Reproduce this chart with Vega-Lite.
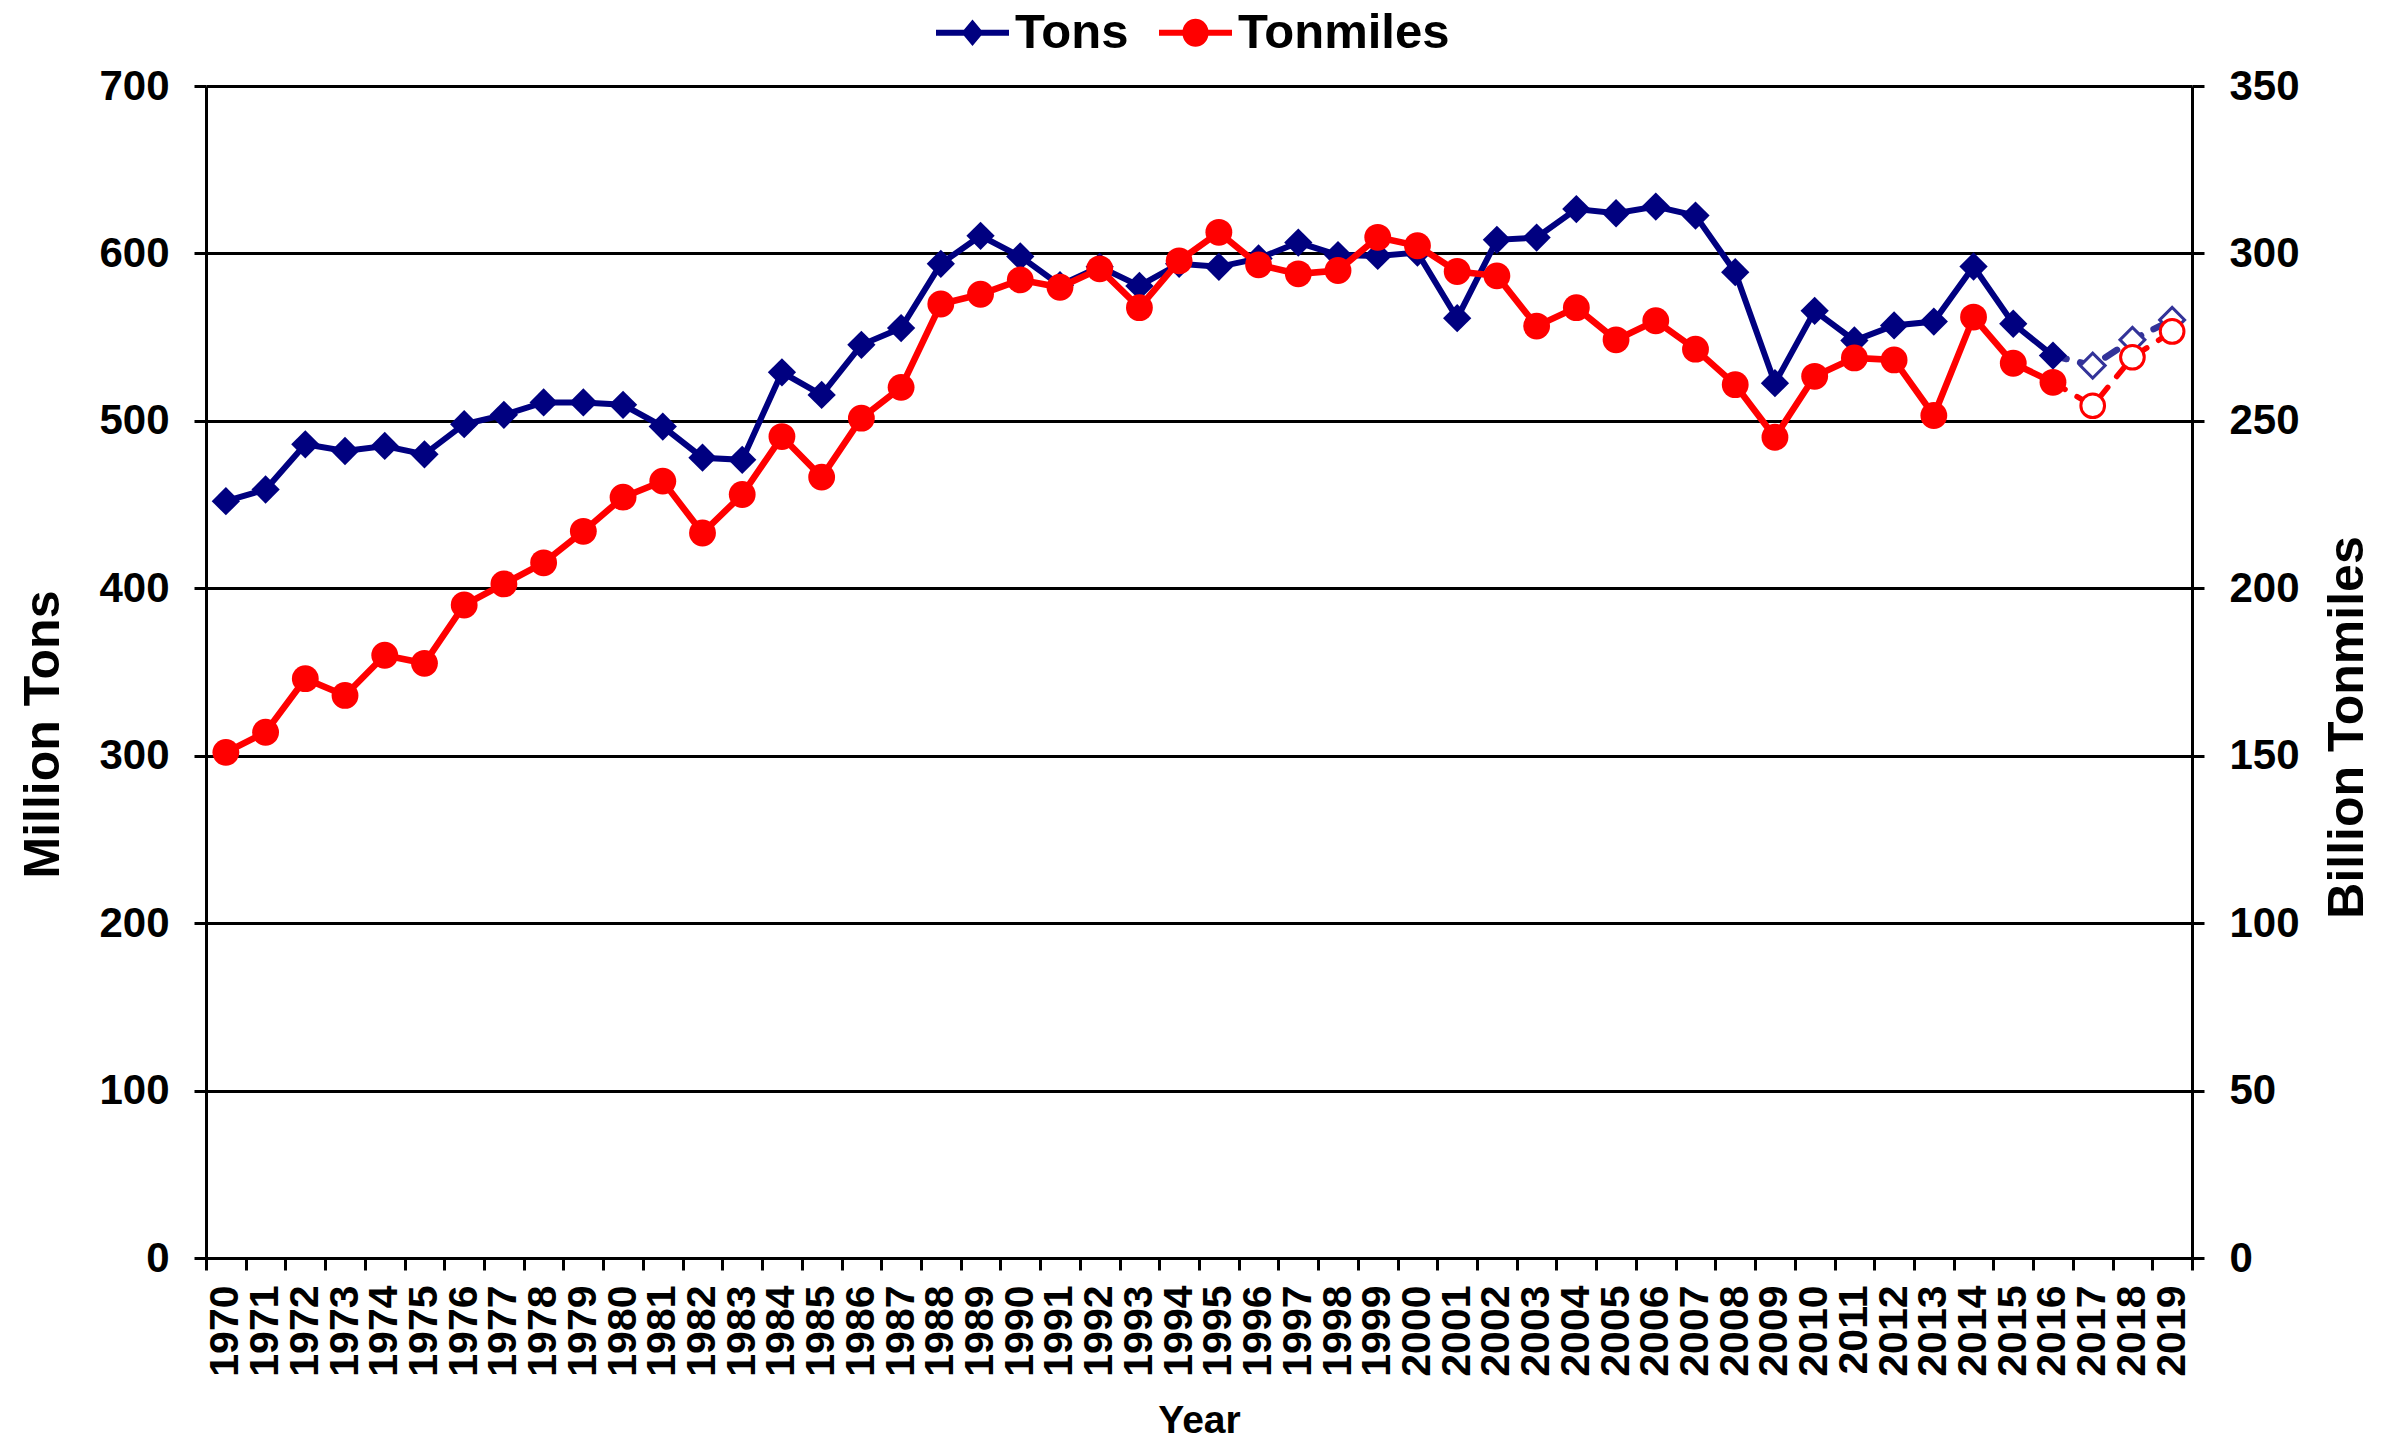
{
  "$schema": "https://vega.github.io/schema/vega-lite/v6.json",
  "width": 1986,
  "height": 1172,
  "autosize": {"type": "none"},
  "padding": {"left": 206, "top": 86, "right": 191, "bottom": 187},
  "background": "white",
  "config": {
    "font": "Liberation Sans",
    "view": {"stroke": null},
    "axis": {
      "labelFont": "Liberation Sans",
      "labelFontWeight": "bold",
      "labelColor": "black",
      "titleFont": "Liberation Sans",
      "titleFontWeight": "bold",
      "titleColor": "black",
      "domainColor": "black",
      "domainWidth": 3,
      "tickColor": "black",
      "tickWidth": 3,
      "tickSize": 12
    }
  },
  "data": {
    "values": [
      {"year": 1970, "tons": 452, "tonmiles": 151},
      {"year": 1971, "tons": 459, "tonmiles": 157},
      {"year": 1972, "tons": 486, "tonmiles": 173},
      {"year": 1973, "tons": 482, "tonmiles": 168},
      {"year": 1974, "tons": 485, "tonmiles": 180},
      {"year": 1975, "tons": 480, "tonmiles": 177.6},
      {"year": 1976, "tons": 498, "tonmiles": 195},
      {"year": 1977, "tons": 503.6, "tonmiles": 201.3},
      {"year": 1978, "tons": 511, "tonmiles": 207.6},
      {"year": 1979, "tons": 511, "tonmiles": 217},
      {"year": 1980, "tons": 509.6, "tonmiles": 227.2},
      {"year": 1981, "tons": 496.6, "tonmiles": 232},
      {"year": 1982, "tons": 478, "tonmiles": 216.5},
      {"year": 1983, "tons": 476.7, "tonmiles": 228},
      {"year": 1984, "tons": 529, "tonmiles": 245.3},
      {"year": 1985, "tons": 515.5, "tonmiles": 233.2},
      {"year": 1986, "tons": 545.4, "tonmiles": 250.8},
      {"year": 1987, "tons": 555.4, "tonmiles": 260},
      {"year": 1988, "tons": 593.8, "tonmiles": 284.9},
      {"year": 1989, "tons": 610.5, "tonmiles": 287.8},
      {"year": 1990, "tons": 598.2, "tonmiles": 292.1},
      {"year": 1991, "tons": 581, "tonmiles": 289.9},
      {"year": 1992, "tons": 592, "tonmiles": 295.4},
      {"year": 1993, "tons": 580.6, "tonmiles": 283.8},
      {"year": 1994, "tons": 593.8, "tonmiles": 297.8},
      {"year": 1995, "tons": 592, "tonmiles": 306.3},
      {"year": 1996, "tons": 597, "tonmiles": 296.6},
      {"year": 1997, "tons": 606.5, "tonmiles": 293.9},
      {"year": 1998, "tons": 599, "tonmiles": 294.9},
      {"year": 1999, "tons": 598.5, "tonmiles": 304.8},
      {"year": 2000, "tons": 600.5, "tonmiles": 302.3},
      {"year": 2001, "tons": 561.3, "tonmiles": 294.6},
      {"year": 2002, "tons": 608.1, "tonmiles": 293.3},
      {"year": 2003, "tons": 609.5, "tonmiles": 278.3},
      {"year": 2004, "tons": 626.5, "tonmiles": 283.8},
      {"year": 2005, "tons": 624, "tonmiles": 274.2},
      {"year": 2006, "tons": 628, "tonmiles": 279.9},
      {"year": 2007, "tons": 622.6, "tonmiles": 271.4},
      {"year": 2008, "tons": 588.8, "tonmiles": 260.8},
      {"year": 2009, "tons": 522.5, "tonmiles": 245.1},
      {"year": 2010, "tons": 565.7, "tonmiles": 263.3},
      {"year": 2011, "tons": 548, "tonmiles": 268.8},
      {"year": 2012, "tons": 557, "tonmiles": 268.2},
      {"year": 2013, "tons": 559.3, "tonmiles": 251.6},
      {"year": 2014, "tons": 592.2, "tonmiles": 281},
      {"year": 2015, "tons": 558, "tonmiles": 267.2},
      {"year": 2016, "tons": 539, "tonmiles": 261.5},
      {"year": 2017, "tons": 533, "tonmiles": 254.5},
      {"year": 2018, "tons": 548.4, "tonmiles": 269},
      {"year": 2019, "tons": 560.3, "tonmiles": 276.7}
    ]
  },
  "encoding": {
    "x": {
      "field": "year",
      "type": "ordinal",
      "bandPosition": 0.5,
      "scale": {"type": "band", "paddingInner": 0, "paddingOuter": 0},
      "axis": {
        "title": "Year",
        "titleFontSize": 39,
        "titleBaseline": "alphabetic",
        "titlePadding": 56,
        "labelAngle": 270,
        "labelFontSize": 41,
        "labelPadding": 15,
        "labelOverlap": false,
        "tickBand": "extent",
        "grid": false
      }
    }
  },
  "layer": [
    {
      "encoding": {
        "y": {
          "field": "tons",
          "type": "quantitative",
          "scale": {"domain": [0, 700], "nice": false},
          "axis": {
            "title": "Million Tons",
            "titleFontSize": 50,
            "titleAngle": 270,
            "titleBaseline": "alphabetic",
            "titlePadding": 40,
            "titleY": 648,
            "values": [0, 100, 200, 300, 400, 500, 600, 700],
            "labelFontSize": 42,
            "labelPadding": 25,
            "grid": true,
            "gridColor": "black",
            "gridWidth": 3,
            "gridOpacity": 1
          }
        }
      },
      "layer": [
        {
          "transform": [{"filter": "datum.year <= 2016"}],
          "mark": {"type": "line", "strokeWidth": 6},
          "encoding": {
            "color": {
              "datum": "Tons",
              "type": "nominal",
              "scale": {"domain": ["Tons", "Tonmiles"], "range": ["#000080", "#FF0000"]},
              "legend": {
                "orient": "none",
                "legendX": 730,
                "legendY": -90,
                "direction": "horizontal",
                "title": null,
                "labelFont": "Liberation Sans",
                "labelFontSize": 49,
                "labelFontWeight": "bold",
                "labelColor": "black",
                "labelLimit": 600,
                "labelOffset": 6,
                "columnPadding": 30,
                "symbolSize": 5329,
                "encode": {
                  "symbols": {
                    "update": {
                      "shape": {"signal": "datum.value === 'Tons' ? 'M-1,-0.08L-0.234,-0.08L0,-0.365L0.234,-0.08L1,-0.08L1,0.08L0.234,0.08L0,0.365L-0.234,0.08L-1,0.08Z' : 'M-1,-0.08L-0.352,-0.08A0.36,0.38 0 0 1 0.352,-0.08L1,-0.08L1,0.08L0.352,0.08A0.36,0.38 0 0 1 -0.352,0.08L-1,0.08Z'"},
                      "fill": {"signal": "datum.value === 'Tons' ? '#000080' : '#FF0000'"},
                      "stroke": {"value": "transparent"},
                      "strokeWidth": {"value": 0},
                      "opacity": {"value": 1},
                      "fillOpacity": {"value": 1},
                      "size": {"value": 5329}
                    }
                  }
                }
              }
            }
          }
        },
        {
          "transform": [{"filter": "datum.year >= 2016"}],
          "mark": {"type": "line", "color": "#333399", "strokeWidth": 6.5, "strokeDash": [14, 14], "strokeCap": "round"},
          "encoding": {}
        },
        {
          "transform": [{"filter": "datum.year <= 2016"}],
          "mark": {"type": "point", "shape": "diamond", "filled": true, "color": "#000080", "size": 800, "opacity": 1},
          "encoding": {}
        },
        {
          "transform": [{"filter": "datum.year >= 2017"}],
          "mark": {"type": "point", "shape": "diamond", "filled": true, "fill": "white", "stroke": "#333399", "strokeWidth": 3, "size": 620, "opacity": 1},
          "encoding": {}
        }
      ]
    },
    {
      "encoding": {
        "y": {
          "field": "tonmiles",
          "type": "quantitative",
          "scale": {"domain": [0, 350], "nice": false},
          "axis": {
            "orient": "right",
            "title": "Billion Tonmiles",
            "titleFontSize": 50,
            "titleAngle": 270,
            "titleBaseline": "alphabetic",
            "titlePadding": 63,
            "titleY": 641,
            "values": [0, 50, 100, 150, 200, 250, 300, 350],
            "labelFontSize": 42,
            "labelPadding": 25,
            "grid": false
          }
        }
      },
      "layer": [
        {
          "transform": [{"filter": "datum.year <= 2016"}],
          "mark": {"type": "line", "color": "#FF0000", "strokeWidth": 6.5},
          "encoding": {}
        },
        {
          "transform": [{"filter": "datum.year >= 2016"}],
          "mark": {"type": "line", "color": "#FF0000", "strokeWidth": 5.5, "strokeDash": [14, 14], "strokeCap": "round"},
          "encoding": {}
        },
        {
          "transform": [{"filter": "datum.year <= 2016"}],
          "mark": {"type": "point", "shape": "circle", "filled": true, "color": "#FF0000", "size": 720, "opacity": 1},
          "encoding": {}
        },
        {
          "transform": [{"filter": "datum.year >= 2017"}],
          "mark": {"type": "point", "shape": "circle", "filled": true, "fill": "white", "stroke": "#FF0000", "strokeWidth": 3, "size": 560, "opacity": 1},
          "encoding": {}
        }
      ]
    }
  ],
  "resolve": {"scale": {"y": "independent"}}
}
